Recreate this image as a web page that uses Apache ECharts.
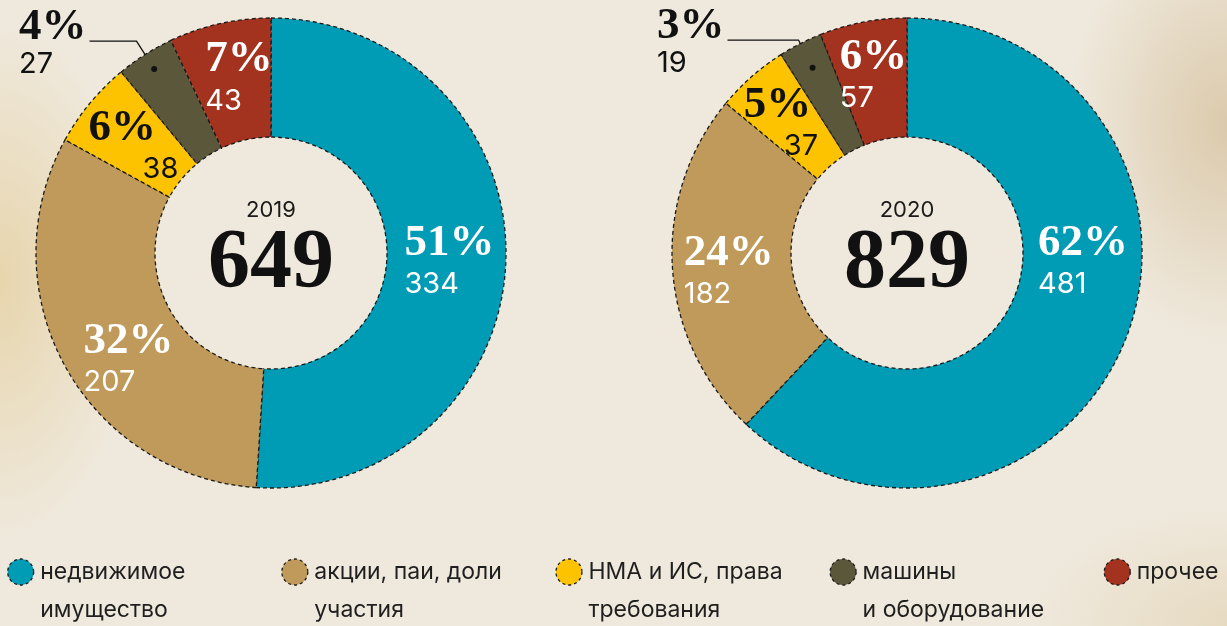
<!DOCTYPE html>
<html>
<head>
<meta charset="utf-8">
<script src="https://cdn.jsdelivr.net/npm/echarts@6/dist/echarts.min.js"></script>
<style>
  html, body { margin: 0; padding: 0; }
  body {
    width: 1227px; height: 626px; overflow: hidden;
    background:
      radial-gradient(ellipse 140px 260px at 0% 45%, rgba(224,196,132,0.55), rgba(224,196,132,0) 100%),
      radial-gradient(ellipse 160px 220px at 100% 20%, rgba(196,164,112,0.45), rgba(196,164,112,0) 100%),
      radial-gradient(ellipse 200px 120px at 100% 100%, rgba(214,190,140,0.35), rgba(214,190,140,0) 100%),
      #efe9dd;
  }
  #main { width: 1227px; height: 626px; }
</style>
</head>
<body>
<div id="main"></div>
<script>
// категории (порядок по часовой стрелке от 12 часов)
var categories = ['недвижимое имущество', 'акции, паи, доли участия', 'НМА и ИС, права требования', 'машины и оборудование', 'прочее'];
var legendLines = ['недвижимое\nимущество', 'акции, паи, доли\nучастия', 'НМА и ИС, права\nтребования', 'машины\nи оборудование', 'прочее'];
var years = ['2019', '2020'];
var totals = [649, 829];
var share2019 = [51, 32, 6, 4, 7];
var count2019 = [334, 207, 38, 27, 43];
var share2020 = [62, 24, 5, 3, 6];
var count2020 = [481, 182, 37, 19, 57];

var colors = ['#009bb4', '#c09a5a', '#fdc300', '#5b573b', '#a3321e'];
var labelKind = ['light', 'light', 'indent', 'outside', 'light'];

var centers = [[271, 253], [907, 253]];
var radius = [116, 235];
var serif = '"Liberation Serif", "DejaVu Serif", serif';
var sans = 'Inter, "Noto Sans", sans-serif';

// сдвиги подписей внутри секторов
var shifts = [
    [[0, 4], [14, 21], [0, 8], [0, 3], [7, 0]],
    [[10, -56], [0, 8], [-8, 5], [0, 3], [0, -1]]
];
var dotInset = [17, 27];
var outsideLine = [[16, 47], [4, 71]];

var myChart = echarts.init(document.getElementById('main'));

function makeSeries(k, shares, counts) {
    return {
        type: 'pie',
        center: centers[k],
        radius: radius,
        startAngle: 90,
        clockwise: true,
        avoidLabelOverlap: false,
        emphasis: { disabled: true },
        itemStyle: { borderColor: '#1a1a1a', borderWidth: 1.3, borderType: [4, 3] },
        label: {
            show: true,
            position: 'inside',
            distanceToLabelLine: 3,
            formatter: function (p) {
                var kind = labelKind[p.dataIndex];
                var c = counts[p.dataIndex];
                if (kind === 'light') return '{p|' + p.value + '%}\n{c|' + c + '}';
                if (kind === 'indent') return '{pd|' + p.value + '%}\n{ci|' + c + '}';
                return '{po|' + p.value + '%}\n{co|' + c + '}';
            },
            rich: {
                p: { fontFamily: serif, fontSize: 45, fontWeight: 'bold', color: '#fff', lineHeight: 44, align: 'left' },
                c: { fontFamily: sans, fontSize: 29, color: '#fff', lineHeight: 38, align: 'left' },
                pd: { fontFamily: serif, fontSize: 45, fontWeight: 'bold', color: '#111', lineHeight: 44, align: 'left' },
                ci: { fontFamily: sans, fontSize: 29, color: '#111', lineHeight: 38, align: 'left', padding: [0, 0, 0, k === 0 ? 54 : 40] },
                po: { fontFamily: serif, fontSize: 45, fontWeight: 'bold', color: '#111', lineHeight: 40, align: 'left' },
                co: { fontFamily: sans, fontSize: 29, color: '#111', lineHeight: 34, align: 'left' }
            }
        },
        labelLine: { show: false },
        labelLayout: function (params) {
            var i = params.dataIndex;
            if (labelKind[i] === 'outside') {
                var pts = params.labelLinePoints;
                if (!pts) return { dy: shifts[k][i][1] };
                var vx = pts[0][0] - pts[1][0], vy = pts[0][1] - pts[1][1];
                var len = Math.sqrt(vx * vx + vy * vy) || 1;
                var p0 = [pts[0][0] + vx / len * dotInset[k], pts[0][1] + vy / len * dotInset[k]];
                return { dy: shifts[k][i][1], labelLinePoints: [p0, pts[1], pts[2]] };
            }
            return { dx: shifts[k][i][0], dy: shifts[k][i][1] };
        },
        data: categories.map(function (name, i) {
            var item = { name: name, value: shares[i] };
            if (labelKind[i] === 'outside') {
                item.label = { position: 'outside' };
                item.labelLine = {
                    show: true, length: outsideLine[k][0], length2: outsideLine[k][1],
                    lineStyle: { color: '#111', width: 1.3 }
                };
            }
            return item;
        })
    };
}

// точка на выноске
function dotFor(k, shares) {
    var sum = shares.reduce(function (a, b) { return a + b; }, 0);
    var idx = labelKind.indexOf('outside');
    var before = 0;
    for (var i = 0; i < idx; i++) before += shares[i];
    var frac = (before + shares[idx] / 2) / sum;
    var ang = (90 - frac * 360) * Math.PI / 180;
    var r = radius[1] - dotInset[k];
    return {
        type: 'circle',
        shape: { cx: centers[k][0] + r * Math.cos(ang), cy: centers[k][1] - r * Math.sin(ang), r: 3 },
        style: { fill: '#111' },
        z: 100
    };
}

var graphics = [];
years.forEach(function (y, k) {
    graphics.push({
        type: 'text', x: centers[k][0], y: centers[k][1] - 43,
        style: { text: y, fontFamily: sans, fontSize: 22, fill: '#1a1a1a', align: 'center', verticalAlign: 'middle' }
    });
    graphics.push({
        type: 'text', x: centers[k][0], y: centers[k][1] + 12,
        style: { text: String(totals[k]), fontFamily: serif, fontWeight: 'bold', fontSize: 84, fill: '#111', align: 'center', verticalAlign: 'middle' }
    });
});
graphics.push(dotFor(0, share2019));
graphics.push(dotFor(1, share2020));

option = {
    color: colors,
    backgroundColor: 'transparent',
    animation: false,
    legend: {
        left: 7,
        top: 515,
        padding: 0,
        itemGap: 12,
        itemWidth: 29,
        itemHeight: 26,
        icon: 'circle',
        selectedMode: false,
        itemStyle: { borderColor: '#1a1a1a', borderWidth: 1.3, borderType: [3, 3] },
        formatter: function (name) {
            var t = legendLines[categories.indexOf(name)];
            return '\n' + (t.indexOf('\n') < 0 ? t + '\n ' : t);
        },
        textStyle: { fontFamily: sans, fontSize: 23, color: '#1f1f1f', lineHeight: 38, width: 229 },
        data: categories.map(function (n, i) {
            return i === categories.length - 1 ? { name: n, textStyle: { width: 80 } } : n;
        })
    },
    graphic: graphics,
    series: [
        makeSeries(0, share2019, count2019),
        makeSeries(1, share2020, count2020)
    ]
};
myChart.setOption(option);
</script>
</body>
</html>
